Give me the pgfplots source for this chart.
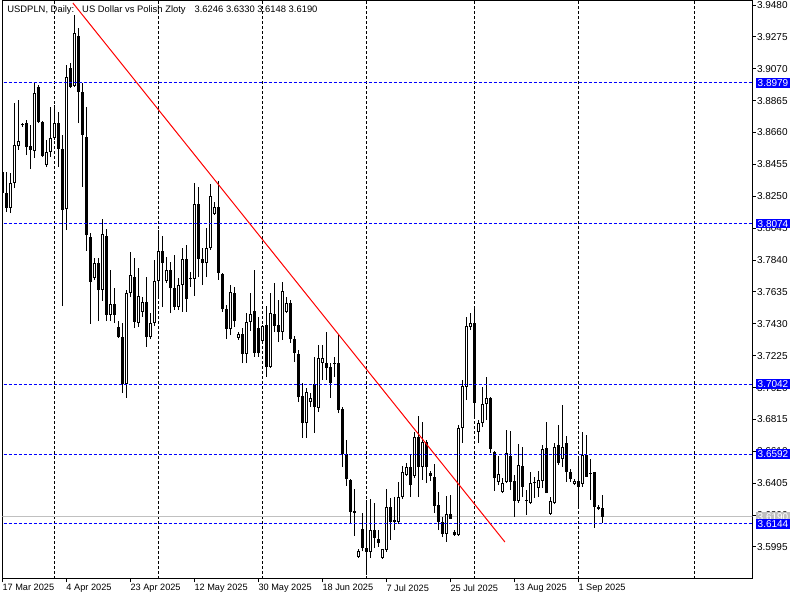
\documentclass[border=0pt]{standalone}
\usepackage{fontspec}
\setmainfont{Liberation Sans}
\usepackage{pgfplots}
\pgfplotsset{compat=1.18}
\usepackage{pgfplotstable}

% bar index i: 0 = 17 Mar 2025, Sunday bars included
\pgfplotstableread{
i o h l c
2 3.8175 3.8400 3.8142 3.8335
3 3.8335 3.8850 3.8303 3.8580
4 3.8573 3.8869 3.8548 3.8606
8 3.8541 3.8985 3.8496 3.8914
11 3.8451 3.8612 3.8438 3.8535
12 3.8535 3.8824 3.8502 3.8625
13 3.8625 3.8837 3.8612 3.8721
16 3.8168 3.9094 3.8033 3.9017
18 3.8959 3.9416 3.8953 3.9300
23 3.7724 3.7853 3.7712 3.7821
25 3.7647 3.8104 3.7577 3.8007
27 3.7487 3.7776 3.7448 3.7557
31 3.7043 3.7647 3.6953 3.7628
32 3.7628 3.7892 3.7602 3.7744
34 3.7435 3.7789 3.7409 3.7609
35 3.7506 3.7602 3.7474 3.7570
37 3.7345 3.7499 3.7332 3.7435
38 3.7435 3.7840 3.7416 3.7705
39 3.7705 3.8033 3.7602 3.7898
41 3.7705 3.7859 3.7692 3.7776
44 3.7538 3.7724 3.7519 3.7679
45 3.7679 3.7917 3.7506 3.7847
48 3.7718 3.8335 3.7609 3.8200
51 3.7821 3.8046 3.7731 3.7917
52 3.7917 3.8329 3.7905 3.8252
53 3.8136 3.8213 3.8130 3.8181
57 3.7397 3.7679 3.7358 3.7634
59 3.7339 3.7377 3.7326 3.7364
61 3.7236 3.7499 3.7178 3.7442
62 3.7442 3.7628 3.7384 3.7493
65 3.7319 3.7422 3.7313 3.7416
67 3.7152 3.7628 3.7146 3.7499
70 3.7377 3.7699 3.7326 3.7641
71 3.7506 3.7602 3.7499 3.7564
76 3.6792 3.7017 3.6696 3.6991
77 3.6927 3.6985 3.6895 3.6953
79 3.6889 3.7294 3.6863 3.7210
80 3.7178 3.7294 3.7069 3.7210
89 3.5932 3.5983 3.5926 3.5970
92 3.5963 3.6303 3.5924 3.6104
95 3.5924 3.5982 3.5918 3.5982
96 3.5976 3.6368 3.5963 3.6252
99 3.6156 3.6413 3.6143 3.6316
100 3.6316 3.6516 3.6303 3.6477
101 3.6458 3.6535 3.6451 3.6509
103 3.6451 3.6734 3.6438 3.6702
105 3.6509 3.6799 3.6426 3.6670
111 3.6078 3.6323 3.6027 3.6207
114 3.6072 3.6779 3.6066 3.6760
115 3.6760 3.7069 3.6664 3.7030
116 3.7024 3.7474 3.6940 3.7416
117 3.7409 3.7499 3.7390 3.7435
119 3.6734 3.6811 3.6664 3.6792
120 3.6792 3.7024 3.6766 3.6914
121 3.6914 3.7088 3.6811 3.6953
124 3.6413 3.6580 3.6393 3.6464
125 3.6348 3.6438 3.6342 3.6406
126 3.6413 3.6747 3.6406 3.6599
129 3.6291 3.6657 3.6278 3.6522
132 3.6278 3.6477 3.6271 3.6406
134 3.6374 3.6483 3.6316 3.6426
135 3.6419 3.6651 3.6374 3.6625
137 3.6207 3.6316 3.6201 3.6291
138 3.6278 3.6664 3.6271 3.6638
140 3.6561 3.6908 3.6509 3.6638
143 3.6400 3.6432 3.6393 3.6419
145 3.6400 3.6734 3.6381 3.6586
}\bull

\pgfplotstableread{
i o h l c
0 3.8406 3.8419 3.8226 3.8271
1 3.8271 3.8406 3.8149 3.8175
5 3.8715 3.8721 3.8695 3.8708
6 3.8721 3.8740 3.8515 3.8567
7 3.8573 3.8708 3.8425 3.8548
9 3.8953 3.8965 3.8721 3.8728
10 3.8728 3.8734 3.8502 3.8509
14 3.8721 3.8792 3.8438 3.8554
15 3.8554 3.8644 3.7544 3.8162
17 3.9075 3.9107 3.8946 3.8953
19 3.9281 3.9332 3.8721 3.8920
20 3.8920 3.8978 3.8310 3.8644
21 3.8631 3.8824 3.7900 3.8000
22 3.7988 3.8014 3.7429 3.7699
24 3.7821 3.7853 3.7448 3.7647
26 3.7995 3.8040 3.7448 3.7487
28 3.7557 3.7660 3.7435 3.7487
29 3.7409 3.7448 3.7339 3.7345
30 3.7345 3.7435 3.6985 3.7043
33 3.7731 3.7853 3.7403 3.7442
36 3.7570 3.7731 3.7281 3.7345
40 3.7898 3.7995 3.7538 3.7821
42 3.7776 3.7827 3.7499 3.7660
43 3.7660 3.7872 3.7519 3.7538
46 3.7847 3.7937 3.7506 3.7589
47 3.7724 3.7763 3.7667 3.7718
49 3.8200 3.8310 3.7731 3.7847
50 3.7847 3.7917 3.7679 3.7821
54 3.8181 3.8348 3.7712 3.7757
55 3.7750 3.7757 3.7506 3.7525
56 3.7525 3.7551 3.7332 3.7397
58 3.7628 3.7667 3.7409 3.7448
60 3.7364 3.7403 3.7178 3.7236
63 3.7512 3.7776 3.7217 3.7242
64 3.7403 3.7474 3.7217 3.7242
66 3.7422 3.7544 3.7088 3.7152
68 3.7493 3.7692 3.7377 3.7416
69 3.7422 3.7583 3.7313 3.7377
72 3.7564 3.7583 3.7307 3.7332
73 3.7332 3.7352 3.7184 3.7242
74 3.7236 3.7262 3.6927 3.6959
75 3.6966 3.7049 3.6696 3.6792
78 3.7043 3.7217 3.6728 3.6895
81 3.7178 3.7377 3.7069 3.7146
82 3.7152 3.7178 3.6953 3.7049
83 3.7178 3.7217 3.7088 3.7171
84 3.7178 3.7364 3.6856 3.6876
85 3.6882 3.6895 3.6509 3.6593
86 3.6593 3.6683 3.6390 3.6432
87 3.6426 3.6432 3.6150 3.6220
88 3.6226 3.6367 3.6066 3.6213
90 3.6110 3.6213 3.5966 3.5988
91 3.5988 3.6297 3.5815 3.5963
93 3.6104 3.6278 3.5988 3.6053
94 3.6046 3.6104 3.5997 3.6021
97 3.6252 3.6310 3.6040 3.6156
98 3.6168 3.6319 3.6104 3.6156
102 3.6509 3.6593 3.6316 3.6393
104 3.6702 3.6837 3.6316 3.6509
106 3.6670 3.6683 3.6406 3.6509
107 3.6471 3.6483 3.6419 3.6451
108 3.6445 3.6528 3.6213 3.6258
109 3.6265 3.6348 3.6104 3.6156
110 3.6156 3.6188 3.6059 3.6078
112 3.6207 3.6329 3.6175 3.6175
113 3.6091 3.6104 3.6066 3.6072
118 3.7435 3.7538 3.6831 3.6921
122 3.6953 3.6959 3.6599 3.6625
123 3.6606 3.6610 3.6355 3.6438
127 3.6580 3.6741 3.6361 3.6413
128 3.6419 3.6458 3.6188 3.6291
130 3.6516 3.6638 3.6316 3.6381
131 3.6297 3.6361 3.6201 3.6291
133 3.6410 3.6445 3.6310 3.6404
136 3.6631 3.6799 3.6342 3.6342
139 3.6651 3.6779 3.6522 3.6535
141 3.6664 3.6709 3.6413 3.6477
142 3.6477 3.6496 3.6413 3.6432
144 3.6419 3.6574 3.6246 3.6381
146 3.6586 3.6715 3.6445 3.6445
147 3.6471 3.6561 3.6297 3.6464
148 3.6477 3.6480 3.6117 3.6252
149 3.6252 3.6265 3.6233 3.6239
150 3.6246 3.6330 3.6148 3.6190
}\bear

\definecolor{mtblue}{RGB}{0,0,255}
\definecolor{bidgray}{RGB}{192,192,192}
\newcommand{\tf}{\fontsize{5}{6}\selectfont}
\newcommand{\df}{\fontsize{4.6}{5.5}\selectfont}
\tikzset{lbl/.style={anchor=west, fill=mtblue, text=white, font=\tf, inner xsep=1pt,
    inner ysep=0pt, minimum height=4.8pt, xshift=1.5pt}}
\pgfplotsset{
  candle/.style={draw=none, mark=none, forget plot, error bars/.cd, y dir=plus, y explicit,
    error mark=none, error bar style={draw=black, line width=#1, solid}},
}

\begin{document}
\begin{tikzpicture}
\useasboundingbox (0,0) rectangle (400pt,300pt);
\begin{axis}[
  at={(1.15pt,10.5pt)}, anchor=south west,
  scale only axis, width=375pt, height=289pt,
  xmin=-0.05, xmax=187.45, ymin=3.5789, ymax=3.9506,
  axis line style={line width=0.5pt},
  clip mode=individual,
  tick align=outside, major tick length=1.75pt,
  tick style={black, line width=0.5pt},
  xtick pos=left, ytick pos=right, yticklabel pos=right,
  xtick={0,16,...,144},
  xticklabels={17 Mar 2025,4 Apr 2025,23 Apr 2025,12 May 2025,30 May 2025,18 Jun 2025,7 Jul 2025,25 Jul 2025,13 Aug 2025,1 Sep 2025},
  ytick={3.5995,3.6200,3.6405,3.6610,3.6815,3.7020,3.7225,3.7430,3.7635,3.7840,3.8045,3.8250,3.8455,3.8660,3.8865,3.9070,3.9275,3.9480},
  yticklabels={3.5995,3.6200,3.6405,3.6610,3.6815,3.7020,3.7225,3.7430,3.7635,3.7840,3.8045,3.8250,3.8455,3.8660,3.8865,3.9070,3.9275,3.9480},
  yticklabel style={font=\tf, anchor=west, inner sep=0pt, xshift=0.4pt},
  xticklabel style={font=\df, anchor=north west, inner sep=0pt, xshift=-0.2pt, yshift=-0.8pt},
  extra x ticks={13,39,65,91,118,144,173},
  extra x tick labels={},
  extra x tick style={grid=major, major tick length=0pt,
    major grid style={black, line width=0.5pt, dash pattern=on 1.5pt off 1pt}},
]
% bid line
\addplot[bidgray, line width=0.5pt] coordinates {(-1,3.6190) (188,3.6190)};

% wicks
\addplot[candle=0.5pt] table[x=i, y=l, y error expr=\thisrow{h}-\thisrow{l}] {\bull};
\addplot[candle=0.5pt] table[x=i, y=l, y error expr=\thisrow{h}-\thisrow{l}] {\bear};
% bodies
\addplot[candle=1.5pt] table[x=i, y=c, y error expr=\thisrow{o}-\thisrow{c}] {\bear};
\addplot[candle=1.5pt] table[x=i, y=o, y error expr=\thisrow{c}-\thisrow{o}] {\bull};
\addplot[candle=0.5pt, error bar style={draw=white}]
  table[x=i, y expr=\thisrow{o}+0.00064, y error expr=\thisrow{c}-\thisrow{o}-0.00128] {\bull};

% levels
\addplot[mtblue, line width=0.5pt, dash pattern=on 1.5pt off 1pt] coordinates {(-1,3.8979) (188,3.8979)};
\addplot[mtblue, line width=0.5pt, dash pattern=on 1.5pt off 1pt] coordinates {(-1,3.8074) (188,3.8074)};
\addplot[mtblue, line width=0.5pt, dash pattern=on 1.5pt off 1pt] coordinates {(-1,3.7042) (188,3.7042)};
\addplot[mtblue, line width=0.5pt, dash pattern=on 1.5pt off 1pt] coordinates {(-1,3.6592) (188,3.6592)};
\addplot[mtblue, line width=0.5pt, dash pattern=on 1.5pt off 1pt] coordinates {(-1,3.6144) (188,3.6144)};

% trend line
\addplot[red, line width=0.5pt] coordinates {(17.6,3.9493) (125.6,3.6027)};

\node[anchor=base west, inner sep=0pt, font=\fontsize{4.7}{5.6}\selectfont] at (rel axis cs:0,1) [xshift=2.35pt, yshift=-5.85pt]
  {USDPLN, Daily:\hspace{4pt}US Dollar vs Polish Zloty\hspace{4.5pt}3.6246 3.6330 3.6148 3.6190};

\node[lbl] at (axis cs:187.45,3.8979) {3.8979};
\node[lbl] at (axis cs:187.45,3.8074) {3.8074};
\node[lbl] at (axis cs:187.45,3.7042) {3.7042};
\node[lbl] at (axis cs:187.45,3.6592) {3.6592};
\node[lbl, fill=bidgray] at (axis cs:187.45,3.6190) {3.6190};
\node[lbl] at (axis cs:187.45,3.6144) {3.6144};
\end{axis}
\end{tikzpicture}
\end{document}
